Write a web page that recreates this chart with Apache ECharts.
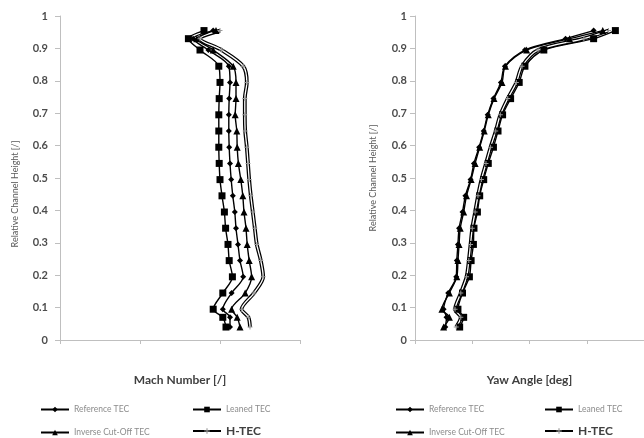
<!DOCTYPE html>
<html>
<head>
<meta charset="utf-8">
<script src="https://cdn.jsdelivr.net/npm/echarts@6/dist/echarts.min.js"></script>
<style>
  html, body { margin: 0; padding: 0; background: #fff; }
  #chart { width: 644px; height: 438px; }
</style>
</head>
<body>
<div id="chart"></div>
<script>
  // relative channel height of the traverse points (shared by all curves)
  var heights = [0.04, 0.07, 0.095, 0.145, 0.195, 0.245, 0.295, 0.345, 0.395, 0.445, 0.495,
                 0.545, 0.595, 0.645, 0.695, 0.745, 0.795, 0.845, 0.895, 0.93, 0.955];

  // Mach number [/]
  var machReference = [0.425, 0.425, 0.407, 0.429, 0.458, 0.45, 0.445, 0.44, 0.437, 0.432, 0.428,
                       0.425, 0.423, 0.422, 0.422, 0.423, 0.425, 0.422, 0.371, 0.333, 0.383];
  var machLeaned    = [0.415, 0.407, 0.383, 0.407, 0.431, 0.423, 0.42, 0.414, 0.411, 0.405, 0.4,
                       0.398, 0.397, 0.397, 0.397, 0.398, 0.4, 0.397, 0.35, 0.321, 0.36];
  var machInverse   = [0.45, 0.443, 0.429, 0.463, 0.479, 0.473, 0.468, 0.465, 0.46, 0.457, 0.452,
                       0.446, 0.443, 0.442, 0.438, 0.44, 0.44, 0.433, 0.383, 0.342, 0.39];
  var machHTEC      = [0.475, 0.471, 0.454, 0.485, 0.508, 0.502, 0.492, 0.487, 0.482, 0.477, 0.473,
                       0.47, 0.467, 0.463, 0.462, 0.462, 0.467, 0.458, 0.404, 0.35, 0.4];

  // yaw angle [deg]
  var yawReference = [5.3, 5.5, 5.0, 5.8, 7.2, 7.3, 7.5, 7.7, 8.3, 8.8, 9.7,
                      10.3, 11.2, 12.0, 12.7, 13.7, 15.0, 15.7, 19.2, 26.3, 31.2];
  var yawLeaned    = [7.8, 8.5, 7.5, 8.3, 9.5, 9.8, 10.2, 10.3, 10.9, 11.3, 12.0,
                      12.8, 13.7, 14.5, 15.3, 16.7, 18.2, 19.2, 22.5, 31.2, 35.0];
  var yawInverse   = [5.0, 6.0, 4.7, 6.0, 7.3, 7.5, 7.7, 7.9, 8.5, 9.0, 9.8,
                      10.5, 11.3, 12.1, 12.8, 13.8, 15.2, 15.8, 19.5, 27.0, 32.8];
  var yawHTEC      = [7.2, 8.0, 7.0, 8.0, 9.0, 9.4, 9.7, 10.0, 10.5, 11.0, 11.6,
                      12.4, 13.2, 14.1, 14.9, 16.2, 17.7, 18.7, 21.5, 29.5, 33.8];

  var yTicks = [0, 0.1, 0.2, 0.3, 0.4, 0.5, 0.6, 0.7, 0.8, 0.9, 1];

  var FONT = 'Lato, "Liberation Sans", sans-serif';
  var crossPath = 'path://M4,0H6V4H10V6H6V10H4V6H0V4H4Z';

  function pairs(xs) {
    return xs.map(function (x, i) { return [x, heights[i]]; });
  }

  function yAxisFor(grid, labelMargin, nameGap, namePad) {
    return {
      type: 'value', gridIndex: grid, min: 0, max: 1, interval: 0.1,
      name: 'Relative Channel Height [/]', nameLocation: 'middle', nameGap: nameGap,
      nameTextStyle: { fontSize: 9, color: '#595959', fontFamily: FONT, padding: namePad },
      axisLine: { show: true, lineStyle: { color: '#bfbfbf', width: 1 } },
      axisTick: { show: true, length: 5, lineStyle: { color: '#bfbfbf' } },
      axisLabel: {
        margin: labelMargin, fontSize: 11, fontWeight: 'bold', color: '#4d4d4d', fontFamily: FONT,
        formatter: function (v) { return yTicks.indexOf(+v.toFixed(1)) >= 0 ? String(+v.toFixed(1)) : ''; }
      },
      splitLine: { show: false }
    };
  }

  function xAxisFor(grid, name, max, interval) {
    return {
      type: 'value', gridIndex: grid, min: 0, max: max, interval: interval,
      name: name, nameLocation: 'middle', nameGap: 34,
      nameTextStyle: { fontSize: 12, fontWeight: 'bold', color: '#404040', fontFamily: FONT },
      axisLine: { show: true, lineStyle: { color: '#bfbfbf', width: 1 } },
      axisTick: { show: true, length: 4, lineStyle: { color: '#bfbfbf' } },
      axisLabel: { show: false },
      splitLine: { show: false }
    };
  }

  function curves(idx, ref, leaned, inverse, htec) {
    var base = { type: 'line', xAxisIndex: idx, yAxisIndex: idx, smooth: 0.3, silent: true };
    return [
      Object.assign({}, base, {
        name: 'Reference TEC', data: pairs(ref), symbol: 'diamond', symbolSize: 6,
        lineStyle: { color: '#000', width: 1.4 }, itemStyle: { color: '#000' }
      }),
      Object.assign({}, base, {
        name: 'Leaned TEC', data: pairs(leaned), symbol: 'rect', symbolSize: 7,
        lineStyle: { color: '#000', width: 1.4 }, itemStyle: { color: '#000' }
      }),
      Object.assign({}, base, {
        name: 'Inverse Cut-Off TEC', data: pairs(inverse), symbol: 'triangle', symbolSize: 7,
        lineStyle: { color: '#000', width: 1.4 }, itemStyle: { color: '#000' }
      }),
      Object.assign({}, base, {
        name: 'H-TEC', data: pairs(htec), symbol: crossPath, symbolSize: 5,
        lineStyle: { color: '#000', width: 3.8 }, itemStyle: { color: '#999' }
      }),
      // white core drawn on top to give the double line of H-TEC
      Object.assign({}, base, {
        name: 'H-TEC core', data: pairs(htec), symbol: 'none',
        lineStyle: { color: '#fff', width: 1.3 }
      })
    ];
  }

  function legendItem(name, left, top, big) {
    var item = { name: name };
    if (big) item.textStyle = { fontSize: 12, color: '#404040', fontWeight: 'bold' };
    return {
      data: [item], left: left, top: top, itemWidth: 28, itemHeight: 7, itemGap: 0,
      selectedMode: false,
      textStyle: { fontSize: 8.5, color: '#8c8c8c', fontFamily: FONT }
    };
  }

  var legends = [];
  [[35, 187], [390, 539]].forEach(function (cols) {
    legends.push(legendItem('Reference TEC', cols[0], 400));
    legends.push(legendItem('Leaned TEC', cols[1], 400));
    legends.push(legendItem('Inverse Cut-Off TEC', cols[0], 423));
    legends.push(legendItem('H-TEC', cols[1], 420, true));
  });

  var myChart = echarts.init(document.getElementById('chart'));
  myChart.setOption({
    animation: false,
    backgroundColor: '#fff',
    grid: [
      { left: 60, top: 16, width: 240, height: 324 },
      { left: 415, top: 16, width: 240, height: 324 }
    ],
    xAxis: [
      xAxisFor(0, 'Mach Number [/]', 0.6, 0.2),
      xAxisFor(1, 'Yaw Angle [deg]', 40, 10)
    ],
    yAxis: [
      yAxisFor(0, 12, 40, [0, 32, 0, 0]),
      yAxisFor(1, 8, 37, 0)
    ],
    legend: legends,
    series: curves(0, machReference, machLeaned, machInverse, machHTEC)
      .concat(curves(1, yawReference, yawLeaned, yawInverse, yawHTEC))
  });
</script>
</body>
</html>
